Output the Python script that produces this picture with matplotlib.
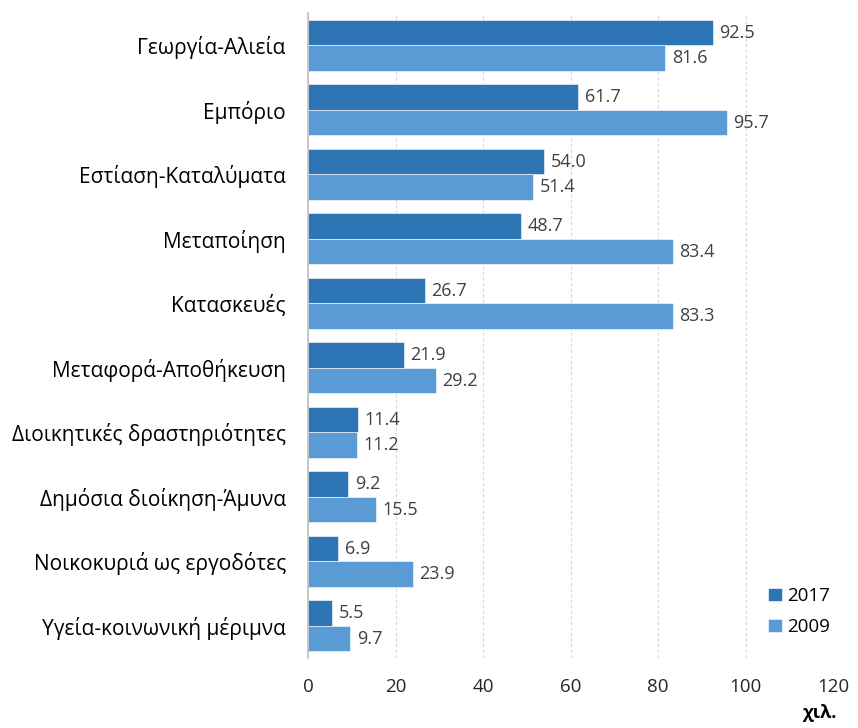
import matplotlib.pyplot as plt
import numpy as np

plt.rcParams['font.family'] = ['Open Sans', 'DejaVu Sans']

categories = [
    "Γεωργία-Αλιεία",
    "Εμπόριο",
    "Εστίαση-Καταλύματα",
    "Μεταποίηση",
    "Κατασκευές",
    "Μεταφορά-Αποθήκευση",
    "Διοικητικές δραστηριότητες",
    "Δημόσια διοίκηση-Άμυνα",
    "Νοικοκυριά ως εργοδότες",
    "Υγεία-κοινωνική μέριμνα",
]
values_2017 = [92.5, 61.7, 54.0, 48.7, 26.7, 21.9, 11.4, 9.2, 6.9, 5.5]
values_2009 = [81.6, 95.7, 51.4, 83.4, 83.3, 29.2, 11.2, 15.5, 23.9, 9.7]
xticks = [0, 20, 40, 60, 80, 100, 120]

c2017 = '#2E75B6'
c2009 = '#5B9BD5'
text_color = '#404040'

fig = plt.figure(figsize=(8.58, 7.28), dpi=100)
ax = fig.add_axes([0.359, 0.096, 0.612, 0.886])

y = np.arange(len(categories))
h = 0.395
b1 = ax.barh(y - h / 2, values_2017, height=h, color=c2017, edgecolor='white', linewidth=0.4, label='2017')
b2 = ax.barh(y + h / 2, values_2009, height=h, color=c2009, edgecolor='white', linewidth=0.4, label='2009')

for bars, vals in ((b1, values_2017), (b2, values_2009)):
    for bar, v in zip(bars, vals):
        ax.text(v + 1.5, bar.get_y() + bar.get_height() / 2, f"{v:.1f}",
                ha='left', va='center', fontsize=13, color=text_color)

ax.set_ylim(len(categories) - 0.5, -0.5)
ax.set_xlim(0, 120)
ax.set_yticks(y)
ax.set_yticklabels(categories, fontsize=15, color='black')
ax.set_xticks(xticks)
ax.set_xticklabels([str(t) for t in xticks], fontsize=13.5, color='#262626')
ax.tick_params(axis='both', length=0)
ax.tick_params(axis='y', pad=16)
ax.tick_params(axis='x', pad=14)

ax.grid(axis='x', color='#d9d9d9', linestyle=(0, (3, 2)), linewidth=0.8)
ax.set_axisbelow(True)
for s in ('top', 'right', 'bottom'):
    ax.spines[s].set_visible(False)
ax.spines['left'].set_color('#bfbfbf')
ax.spines['left'].set_linewidth(1.2)

leg = ax.legend(loc='lower right', bbox_to_anchor=(1.03, 0.005), frameon=False,
                fontsize=13.5, handlelength=0.75, handleheight=0.75, handletextpad=0.3,
                labelspacing=0.7, borderaxespad=0.6)
for t in leg.get_texts():
    t.set_color('black')

fig.text(0.975, 0.008, "χιλ.", ha='right', va='bottom', fontsize=13, fontweight='bold')

fig.savefig('out.png', dpi=100)
